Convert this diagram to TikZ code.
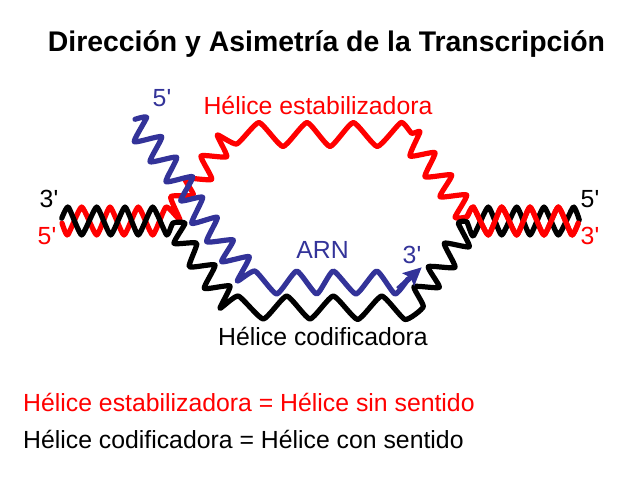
\documentclass[tikz,border=0pt]{standalone}
\usepackage{fontspec}
\setmainfont{Liberation Sans}
\usetikzlibrary{arrows.meta}
\definecolor{arnblue}{RGB}{51,51,153}

\begin{document}
\begin{tikzpicture}[x=1pt,y=-1pt,
    strand/.style={line width=5.2pt,line join=round,line cap=round},
    wave/.style={smooth,tension=.3},
    label/.style={inner sep=0pt,font=\fontsize{24.8}{30}\selectfont}]
    	\useasboundingbox (0,0) rectangle (640,480);

    	% red strand
    	\draw[strand,red] plot[wave] coordinates {(62,223) (67.7,235) (81.7,207) (96.7,235) (110,207) (124,235) (138.3,207) (152.7,235) (166,207) (180,220) (170.7,196.7) (193.3,195) (185,178.3) (211.7,179.3) (201,156) (226.7,156.7) (217.3,135) (236.7,144) (259,122.5) (283,146.5) (307,122.5) (330,146.5) (353.3,122.5) (377.3,146.5) (401,122.5) (411.7,133.3) (420,131.7) (410,156) (435,152.7) (425,176.7) (451.7,175) (440,196.7) (466.7,195) (455,217.3) (467,216.7) (473.3,207) (488.3,235) (501.7,207) (516.7,235) (530,207) (544,235) (558.3,207) (571.7,235) (578.3,223)};

    	% black strand
    	\draw[strand,black] plot[wave] coordinates {(61.7,218.3) (68.3,207) (81.7,235) (96.7,207) (110.7,235) (125,207) (138.3,235) (152.7,207) (166.7,235) (173,223) (185,223.3) (174,243.3) (196.7,243.3) (189.3,266.7) (215,265) (204.3,288.3) (230,286) (220,308.3) (238.3,296) (263.3,319) (286.7,296) (310,319) (333.3,296) (357.7,319.5) (381.7,296) (405,319.5) (423.3,306.7) (414,286.7) (439.3,287.3) (428.3,266.7) (455,267.3) (444.3,243.3) (469.3,246.7) (458.3,223.3) (466.7,221.7) (473.3,236) (488.3,207) (501.7,235) (516.7,207) (530,235) (544,207) (558.3,235) (573.3,207) (579.3,220)};

    	% red goes over black on the right
    	\draw[strand,red] plot[wave] coordinates {(467,216.7) (473.3,207) (488.3,235) (501.7,207) (516.7,235) (530,207) (544,235) (558.3,207) (571.7,235) (578.3,223)};

    	% transcript
    	\draw[strand,arnblue] plot[wave] coordinates {(135,119.3) (146.7,117.3) (134.3,141.7) (161.7,136.7) (150,161.7) (176.7,157.3) (166,181.7) (192.7,176.7) (180.7,200.7) (202.7,197.3) (191.7,223.3) (217.3,217.3) (206.7,241.7) (233.3,240) (221.7,261.7) (249.3,256.7) (237.3,281) (255,271) (276.7,294) (296.7,271) (316.7,294) (333.3,271) (356,294) (376.7,271) (395,294) (408,279)};
    	\draw[line width=5.2pt,arnblue,-{Stealth[length=18pt,width=17pt,inset=3pt]}] (398,289) -- (421.7,267.3);

    	\node[inner sep=0pt,font=\fontsize{28.4}{34}\selectfont\bfseries] (titulo) at (326.5,44) {Dirección y Asimetría de la Transcripción};

    	\node[label,red] (estabilizadora) at (318,105) {Hélice estabilizadora};
    	\node[label] (codificadora) at (323,336) {Hélice codificadora};
    	\node[label,arnblue] (arn) at (322.5,250) {ARN};

    	\node[label] (tresizq) at (49,199) {3\textquotesingle};
    	\node[label,red] (cincoizq) at (47,236) {5\textquotesingle};
    	\node[label,arnblue] (cincoarn) at (162,98) {5\textquotesingle};
    	\node[label,arnblue] (tresarn) at (412,255) {3\textquotesingle};
    	\node[label] (cincoder) at (590,199) {5\textquotesingle};
    	\node[label,red] (tresder) at (590,236) {3\textquotesingle};

    	\node[label,red,anchor=west] (leyendauno) at (23,402) {Hélice estabilizadora = Hélice sin sentido};
    	\node[label,anchor=west] (leyendados) at (23,439) {Hélice codificadora = Hélice con sentido};
\end{tikzpicture}
\end{document}
